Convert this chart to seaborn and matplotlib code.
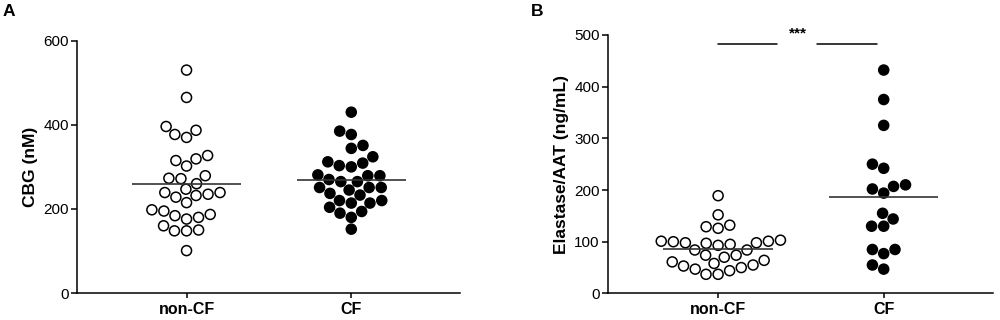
import numpy as np
import pandas as pd
import matplotlib.pyplot as plt
import seaborn as sns

groups = ['non-CF', 'CF']

# Panel A: CBG (nM)
cbg_noncf = [530, 465, 396, 387, 377, 370, 327, 319, 315, 302, 279, 273, 272, 260,
             247, 239, 239, 235, 232, 228, 215, 198, 195, 187, 184, 180, 176, 160,
             150, 148, 148, 101]
cbg_cf = [430, 385, 377, 351, 344, 324, 309, 312, 303, 300, 281, 279, 279, 270,
          265, 265, 251, 251, 251, 245, 237, 233, 220, 220, 214, 214, 204, 194,
          190, 180, 152]

# Panel B: Elastase/AAT (ng/mL)
ela_noncf = [189, 152, 129, 126, 132, 103, 101, 101, 98, 97, 100, 98, 95, 93, 84,
             84, 74, 74, 70, 61, 64, 55, 58, 50, 53, 44, 47, 37, 37]
ela_cf = [432, 375, 325, 250, 242, 210, 202, 207, 194, 155, 144, 130, 130, 85, 85,
          77, 55, 47]

sns.set_style('ticks', {'axes.edgecolor': 'black', 'xtick.color': 'black',
                        'ytick.color': 'black', 'text.color': 'black',
                        'axes.labelcolor': 'black'})
plt.rcParams['font.family'] = ['Liberation Sans', 'DejaVu Sans']

fig = plt.figure(figsize=(10, 3.2), dpi=100)
axA = fig.add_axes([0.077, 0.084, 0.383, 0.789])
axB = fig.add_axes([0.608, 0.083, 0.385, 0.808])


def make_df(a, b):
    return pd.DataFrame({'group': ['non-CF'] * len(a) + ['CF'] * len(b),
                         'value': list(a) + list(b)})


def panel(ax, df, ylim, yticks, ylabel):
    sns.swarmplot(data=df, x='group', y='value', hue='group', order=groups,
                  hue_order=groups, palette=['white', 'black'], size=7.2,
                  edgecolor='black', linewidth=1.1, legend=False, ax=ax)
    means = df.groupby('group')['value'].mean()
    for i, g in enumerate(groups):
        ax.hlines(means[g], i - 0.33, i + 0.33, color='#333333', lw=1.2, zorder=5)
    ax.set_xlim(-0.665, 1.66)
    ax.set_ylim(*ylim)
    ax.set_yticks(yticks)
    ax.set_xlabel('')
    ax.set_ylabel(ylabel, fontsize=12.5, fontweight='bold', labelpad=4)
    ax.tick_params(axis='y', labelsize=11, length=4, width=1.1, pad=2)
    ax.tick_params(axis='x', labelsize=11.5, length=3.5, width=1.1, pad=3)
    for lab in ax.get_xticklabels():
        lab.set_fontweight('bold')
    for s in ['left', 'bottom']:
        ax.spines[s].set_linewidth(1.1)
    sns.despine(ax=ax)


panel(axA, make_df(cbg_noncf, cbg_cf), (0, 600), [0, 200, 400, 600], 'CBG (nM)')
panel(axB, make_df(ela_noncf, ela_cf), (0, 500), [0, 100, 200, 300, 400, 500],
      'Elastase/AAT (ng/mL)')

# significance annotation
axB.plot([0, 0.355], [483, 483], color='black', lw=1.1, clip_on=False)
axB.plot([0.60, 0.96], [483, 483], color='black', lw=1.1, clip_on=False)
axB.text(0.48, 503, '***', ha='center', va='center', fontsize=11,
         fontweight='bold', clip_on=False)

fig.text(0.003, 0.965, 'A', fontsize=12.5, fontweight='bold', va='center')
fig.text(0.531, 0.965, 'B', fontsize=12.5, fontweight='bold', va='center')

fig.savefig('out.png', dpi=100)
